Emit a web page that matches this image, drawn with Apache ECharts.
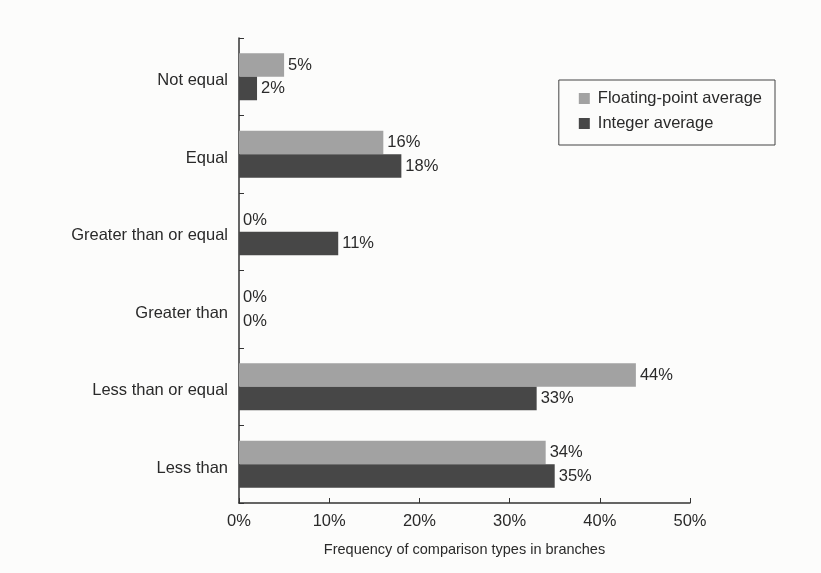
<!DOCTYPE html>
<html>
<head>
<meta charset="utf-8">
<script src="https://cdn.jsdelivr.net/npm/echarts@6/dist/echarts.min.js"></script>
<style>
  html, body { margin: 0; padding: 0; background: #fcfcfb; }
  #chart { width: 821px; height: 573px; }
</style>
</head>
<body>
<div id="chart"></div>
<script>
const categories = ['Not equal', 'Equal', 'Greater than or equal', 'Greater than', 'Less than or equal', 'Less than'];
const floatAvg = [5, 16, 0, 0, 44, 34];
const intAvg = [2, 18, 11, 0, 33, 35];
const xTicks = [0, 10, 20, 30, 40, 50];

const chart = echarts.init(document.getElementById('chart'));
const textColor = '#2a2a2a';
const font = 'Liberation Sans, Arial, sans-serif';

const labelOpt = {
    show: true,
    position: 'right',
    distance: 4,
    formatter: p => p.value + '%',
    color: textColor,
    fontFamily: font,
    fontSize: 16.5
};

chart.setOption({
    backgroundColor: '#fcfcfb',
    textStyle: { fontFamily: font },
    grid: { left: 239, right: 131, top: 38, bottom: 70 },
    legend: {
        right: 46,
        top: 80,
        orient: 'vertical',
        itemWidth: 11,
        itemHeight: 11,
        itemGap: 8,
        padding: [10, 13, 13, 20],
        borderColor: '#444',
        borderWidth: 1,
        icon: 'rect',
        textStyle: { color: textColor, fontSize: 16.5, fontFamily: font, padding: [0, 0, 0, 3] },
        data: ['Floating-point average', 'Integer average']
    },
    xAxis: {
        type: 'value',
        min: xTicks[0],
        max: xTicks[xTicks.length - 1],
        interval: 10,
        name: 'Frequency of comparison types in branches',
        nameLocation: 'middle',
        nameGap: 39,
        nameTextStyle: { color: textColor, fontSize: 14.5, fontFamily: font },
        axisLine: { show: true, lineStyle: { color: '#333', width: 1.5 } },
        axisTick: { show: true, inside: true, length: 5, lineStyle: { color: '#333' } },
        axisLabel: { color: textColor, fontSize: 16.5, margin: 10, formatter: v => v + '%' },
        splitLine: { show: false }
    },
    yAxis: {
        type: 'category',
        inverse: true,
        data: categories,
        axisLine: { show: true, lineStyle: { color: '#333', width: 1.5 } },
        axisTick: { show: true, inside: true, length: 5, lineStyle: { color: '#333' } },
        axisLabel: {
            margin: 11,
            formatter: v => '{c|' + v + '}',
            rich: {
                c: { color: textColor, fontSize: 16.5, fontFamily: font, padding: [8, 0, 0, 0] }
            }
        }
    },
    series: [
        {
            name: 'Floating-point average',
            type: 'bar',
            data: floatAvg,
            barWidth: 23.5,
            barGap: '0%',
            itemStyle: { color: '#a2a2a2' },
            label: labelOpt
        },
        {
            name: 'Integer average',
            type: 'bar',
            data: intAvg,
            barWidth: 23.5,
            barGap: '0%',
            itemStyle: { color: '#474747' },
            label: labelOpt
        }
    ]
});
</script>
</body>
</html>
